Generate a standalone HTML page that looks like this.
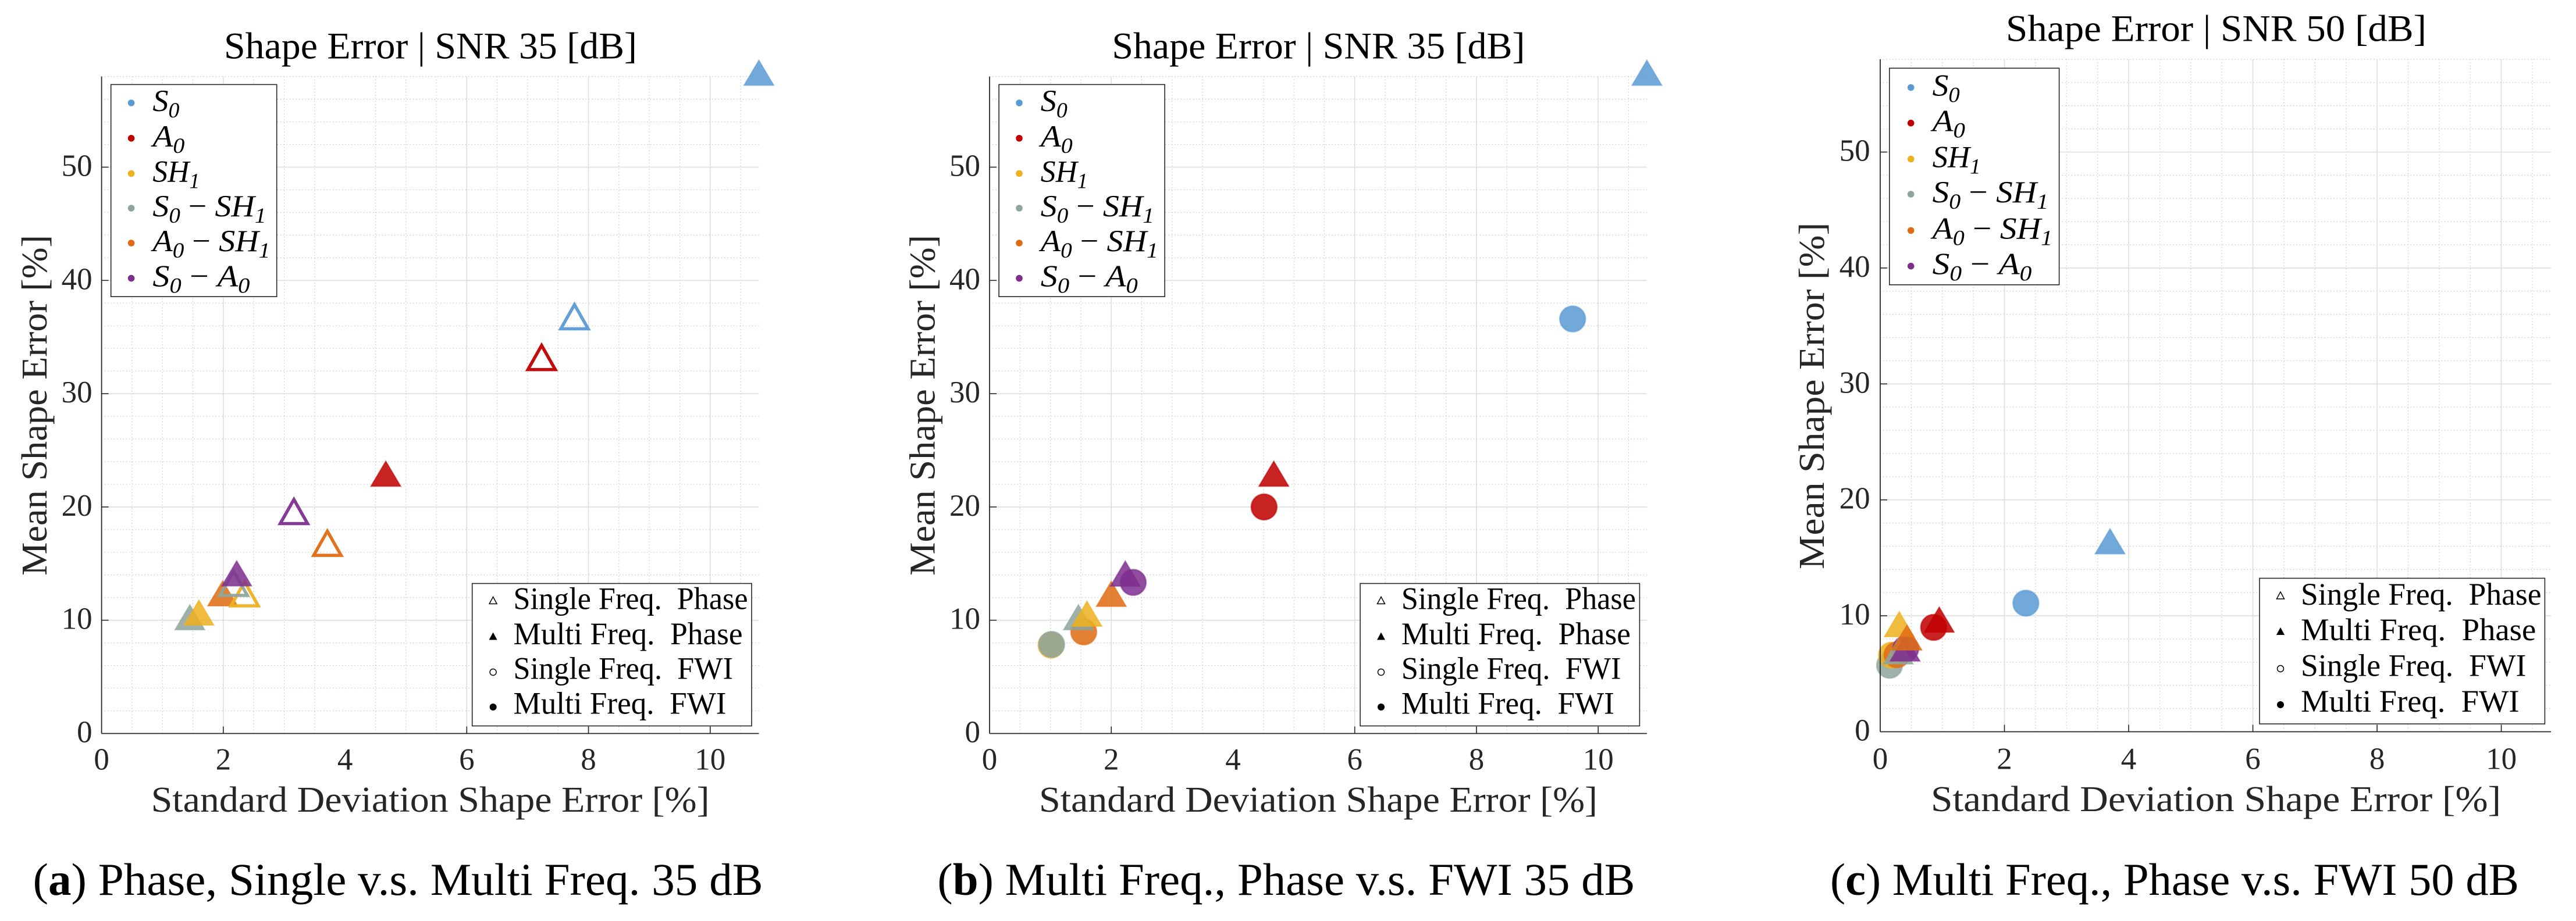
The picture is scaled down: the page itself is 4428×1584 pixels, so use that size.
<!DOCTYPE html>
<html lang="en">
<head>
<meta charset="utf-8">
<title>Shape Error Scatter Panels</title>
<style>
html,body{margin:0;padding:0;background:#fff;}
svg{display:block;font-family:"Liberation Serif",serif;}
</style>
</head>
<body>
<svg id="figure" xmlns="http://www.w3.org/2000/svg" width="4428" height="1584" viewBox="0 0 4428 1584">
<rect x="0" y="0" width="4428" height="1584" fill="#fff"/>
</svg>
<script>
const xTickLabels=[0,2,4,6,8,10];
const yTickLabels=[0,10,20,30,40,50];
const xMinorTicks=[0.5,1,1.5,2.5,3,3.5,4.5,5,5.5,6.5,7,7.5,8.5,9,9.5,10.5];
const yMinorTicks=[2,4,6,8,12,14,16,18,22,24,26,28,32,34,36,38,42,44,46,48,52,54,56,58];
const seriesKeys=['s0','a0','sh1','s0-sh1','a0-sh1','s0-a0'];

const panelASinglePhaseX=[7.77,7.23,2.35,2.17,3.71,3.16];
const panelASinglePhaseY=[36.5,32.9,12.04,12.96,16.5,19.3];
const panelAMultiPhaseX=[10.8,4.67,1.6,1.45,1.99,2.22];
const panelAMultiPhaseY=[58,22.6,10.34,9.93,12.04,13.8];

const panelBMultiPhaseX=[10.8,4.67,1.6,1.46,2.0,2.23];
const panelBMultiPhaseY=[58,22.6,10.24,9.93,11.99,13.78];
const panelBMultiFwiX=[9.58,4.51,1.01,1.02,1.547,2.36];
const panelBMultiFwiY=[36.6,20.0,7.8,7.87,8.97,13.34];

const panelCMultiPhaseX=[3.7,0.95,0.306,0.29,0.43,0.40];
const panelCMultiPhaseY=[16.1,9.34,8.95,6.6,7.8,6.85];
const panelCMultiFwiX=[2.345,0.86,0.18,0.15,0.27,0.41];
const panelCMultiFwiY=[11.09,9.0,6.61,5.73,6.64,7.15];

const seriesColors=['#5B9BD5','#C00000','#EDB120','#8EA59D','#DF6C14','#7E2F8E'];
const methodLabels=['Single Freq.  Phase','Multi Freq.  Phase','Single Freq.  FWI','Multi Freq.  FWI'];
const seriesLabels=[
  [['S','i'],['0','s']],
  [['A','i'],['0','s']],
  [['SH','i'],['1','s']],
  [['S','i'],['0','s'],[' \u2212 ','m'],['SH','i'],['1','s']],
  [['A','i'],['0','s'],[' \u2212 ','m'],['SH','i'],['1','s']],
  [['S','i'],['0','s'],[' \u2212 ','m'],['A','i'],['0','s']]
];
const seriesLabelWidths=[46,55,81,195,202,167];
const methodLabelWidths=[403,394,377.5,366];

const NS='http://www.w3.org/2000/svg';
const svg=document.getElementById('figure');
function el(tag,attrs,parent,text){
  const e=document.createElementNS(NS,tag);
  for(const k in attrs){e.setAttribute(k,attrs[k]);}
  if(text!==undefined){e.textContent=text;}
  parent.appendChild(e);
  return e;
}

function abLayout(dx){
  return {
    ox:174.6+dx,sx:104.62,oy:1261.5,sy:19.48,
    titleX:385+dx,titleY:100.5,titleW:710,
    xTitleX:259.6+dx,xTitleY:1396,xTitleW:960,
    yTitleX:80+dx,yTitleTop:404,yTitleBottom:990,
    tickLabelY:1323.5,yTickRight:158.6+dx,
    leg1:{x:190.7+dx,y:145.4,w:285,h:364.8,dotX:225.6+dx,textX:262.4+dx,rows:[177,237.8,298.5,358,418,478.6],k:1},
    leg2:{x:811.7+dx,y:1003.5,w:480.3,h:245,markX:847.6+dx,textX:882.5+dx,rows:[1033.5,1095,1156,1216],base:[1047.5,1108,1167.5,1227.5],k:1},
    skipX:[4]
  };
}

const panels=[
  Object.assign(abLayout(0),{
    key:'a',title:'Shape Error | SNR 35 [dB]',
    capLetter:'a',capRest:' Phase, Single v.s. Multi Freq. 35 dB',capX:56.6,capW:1255,
    sets:{
      single:{shape:'open',x:panelASinglePhaseX,y:panelASinglePhaseY},
      multi:{shape:'tri',x:panelAMultiPhaseX,y:panelAMultiPhaseY}
    },
    order:[['multi',0],['multi',1],['multi',3],['multi',2],['multi',4],['single',0],['single',1],['single',2],['single',3],['single',4],['single',5],['multi',5]]
  }),
  Object.assign(abLayout(1526.4),{
    key:'b',title:'Shape Error | SNR 35 [dB]',
    capLetter:'b',capRest:' Multi Freq., Phase v.s. FWI 35 dB',capX:1611.4,capW:1199,
    sets:{
      fwi:{shape:'circle',x:panelBMultiFwiX,y:panelBMultiFwiY},
      multi:{shape:'tri',x:panelBMultiPhaseX,y:panelBMultiPhaseY}
    },
    order:[['fwi',0],['fwi',1],['fwi',2],['fwi',3],['fwi',4],['fwi',5],['multi',0],['multi',1],['multi',3],['multi',2],['multi',4],['multi',5]]
  }),
  {
    ox:3232,sx:106.76,oy:1258.5,sy:19.94,
    titleX:3448,titleY:70.4,titleW:723,
    xTitleX:3319,xTitleY:1395,xTitleW:980,
    yTitleX:3135,yTitleTop:382.6,yTitleBottom:979,
    tickLabelY:1322.5,yTickRight:3214.6,
    leg1:{x:3247.8,y:117.3,w:291.8,h:372.5,dotX:3284.7,textX:3321.7,rows:[150.5,211.7,273.5,334,396.4,457.7],k:1.022},
    leg2:{x:3884,y:994.5,w:490.4,h:250.5,markX:3920,textX:3955,rows:[1025,1086.5,1150,1212],base:[1040,1101,1162.5,1224],k:1.026},
    skipX:[],
    key:'c',title:'Shape Error | SNR 50 [dB]',
    capLetter:'c',capRest:' Multi Freq., Phase v.s. FWI 50 dB',capX:3146,capW:1184,
    sets:{
      fwi:{shape:'circle',x:panelCMultiFwiX,y:panelCMultiFwiY},
      multi:{shape:'tri',x:panelCMultiPhaseX,y:panelCMultiPhaseY}
    },
    order:[['fwi',3],['fwi',2],['fwi',4],['fwi',5],['fwi',1],['fwi',0],['multi',3],['multi',5],['multi',2],['multi',4],['multi',1],['multi',0]]
  }
];

function triPath(cx,cy,up,down,half){
  return 'M'+cx+' '+(cy-up)+'L'+(cx+half)+' '+(cy+down)+'L'+(cx-half)+' '+(cy+down)+'Z';
}

function drawPanel(p){
  const g=el('g',{},svg);
  
  
  const xmax=10.8,ymax=58;
  const X=v=>p.ox+v*p.sx;
  const Y=v=>p.oy-v*p.sy;

  xMinorTicks.forEach(function(v){
    const l=el('line',{x1:X(v),x2:X(v),y1:Y(0),y2:Y(ymax),stroke:'#bdbdbd','stroke-width':1.2,'stroke-dasharray':'1.3 4'},g);
    
    
  });
  yMinorTicks.forEach(function(v){
    const l=el('line',{x1:X(0),x2:X(xmax),y1:Y(v),y2:Y(v),stroke:'#bdbdbd','stroke-width':1.2,'stroke-dasharray':'1.3 4'},g);
    
    
  });
  xTickLabels.forEach(function(v){
    if(v===0||p.skipX.indexOf(v)>=0){return;}
    const l=el('line',{x1:X(v),x2:X(v),y1:Y(0),y2:Y(ymax),stroke:'#dedede','stroke-width':1.6},g);
    
    
  });
  yTickLabels.forEach(function(v){
    if(v===0){return;}
    const l=el('line',{x1:X(0),x2:X(xmax),y1:Y(v),y2:Y(v),stroke:'#dedede','stroke-width':1.6},g);
    
    
  });

  p.order.forEach(function(o){
    const set=p.sets[o[0]];
    const i=o[1];
    const cx=X(set.x[i]);
    const cy=Y(set.y[i]);
    const c=seriesColors[i];
    let m;
    if(set.shape==='open'){
      m=el('path',{d:triPath(cx,cy,26.5,15,23.5),fill:'none',stroke:c,'stroke-width':5.5,'stroke-opacity':0.95,'stroke-linejoin':'miter','stroke-miterlimit':6},g);
    }else if(set.shape==='tri'){
      m=el('path',{d:triPath(cx,cy,28,15,25.5),fill:c,'fill-opacity':0.86,stroke:c,'stroke-opacity':0.6,'stroke-width':2,'stroke-miterlimit':6},g);
    }else{
      m=el('circle',{cx:cx,cy:cy,r:22,fill:c,'fill-opacity':0.86,stroke:c,'stroke-opacity':0.6,'stroke-width':2.5},g);
    }
    
    
  });

  const yAxis=el('line',{x1:X(0),x2:X(0),y1:Y(0),y2:Y(ymax),stroke:'#262626','stroke-width':1.8},g);
  
  
  const xAxis=el('line',{x1:X(0),x2:X(xmax),y1:Y(0),y2:Y(0),stroke:'#262626','stroke-width':1.8},g);
  
  

  xTickLabels.forEach(function(v){
    if(v!==0&&p.skipX.indexOf(v)<0){
      const t=el('line',{x1:X(v),x2:X(v),y1:Y(0),y2:Y(0)-12,stroke:'#262626','stroke-width':1.6},g);
      
      
    }
    const lab=el('text',{x:X(v),y:p.tickLabelY,'text-anchor':'middle','font-size':53,fill:'#262626'},g,String(v));
    
    
  });
  yTickLabels.forEach(function(v){
    if(v!==0){
      const t=el('line',{x1:X(0),x2:X(0)+12,y1:Y(v),y2:Y(v),stroke:'#262626','stroke-width':1.6},g);
      
      
    }
    const lab=el('text',{x:p.yTickRight,y:Y(v)+15,'text-anchor':'end','font-size':53,fill:'#262626'},g,String(v));
    
    
  });

  const title=el('text',{x:p.titleX,y:p.titleY,'font-size':65,fill:'#000',textLength:p.titleW,lengthAdjust:'spacingAndGlyphs'},g,p.title);
  
  

  const xTitle=el('text',{x:p.xTitleX,y:p.xTitleY,'font-size':62,fill:'#262626',textLength:p.xTitleW,lengthAdjust:'spacingAndGlyphs'},g,'Standard Deviation Shape Error [%]');
  
  

  const yTitle=el('text',{transform:'translate('+p.yTitleX+' '+p.yTitleBottom+') rotate(-90)','font-size':62,fill:'#262626',textLength:p.yTitleBottom-p.yTitleTop,lengthAdjust:'spacingAndGlyphs'},g,'Mean Shape Error [%]');
  
  

  const L1=p.leg1;
  const leg1=el('g',{},g);
  
  
  const box1=el('rect',{x:L1.x,y:L1.y,width:L1.w,height:L1.h,fill:'#fff',stroke:'#262626','stroke-width':1.6},leg1);
  
  
  seriesLabels.forEach(function(parts,i){
    const dot=el('circle',{cx:L1.dotX,cy:L1.rows[i],r:5.8,fill:seriesColors[i]},leg1);
    
    
    const t=el('text',{x:L1.textX,y:L1.rows[i]+14,'font-size':53,'font-style':'italic',fill:'#000',textLength:seriesLabelWidths[i]*L1.k,lengthAdjust:'spacingAndGlyphs','xml:space':'preserve',style:'white-space:pre'},leg1);
    
    
    let shift=0;
    parts.forEach(function(part){
      const a={};
      const target=part[1]==='s'?11:0;
      a.dy=target-shift;
      shift=target;
      if(part[1]==='s'){a['font-size']=37;}
      if(part[1]==='m'){a['font-style']='normal';}
      el('tspan',a,t,part[0]);
    });
  });

  const L2=p.leg2;
  const leg2=el('g',{},g);
  
  
  const box2=el('rect',{x:L2.x,y:L2.y,width:L2.w,height:L2.h,fill:'#fff',stroke:'#262626','stroke-width':1.6},leg2);
  
  
  methodLabels.forEach(function(label,i){
    const mx=L2.markX,my=L2.rows[i];
    let m;
    if(i===0){
      m=el('path',{d:triPath(mx,my,7,5,6.5),fill:'none',stroke:'#000','stroke-width':1.5},leg2);
    }else if(i===1){
      m=el('path',{d:triPath(mx,my,7.5,5.5,7),fill:'#000'},leg2);
    }else if(i===2){
      m=el('circle',{cx:mx,cy:my,r:5.5,fill:'none',stroke:'#000','stroke-width':1.5},leg2);
    }else{
      m=el('circle',{cx:mx,cy:my,r:6,fill:'#000'},leg2);
    }
    
    
    const t=el('text',{x:L2.textX,y:L2.base[i],'font-size':54,fill:'#000',textLength:methodLabelWidths[i]*L2.k,lengthAdjust:'spacingAndGlyphs','xml:space':'preserve',style:'white-space:pre'},leg2,label);
    
    
  });

  const cap=el('text',{x:p.capX,y:1539,'font-size':78,fill:'#000',textLength:p.capW,lengthAdjust:'spacingAndGlyphs'},svg);
  
  
  el('tspan',{},cap,'(');
  el('tspan',{'font-weight':'bold'},cap,p.capLetter);
  el('tspan',{},cap,')'+p.capRest);
}
panels.forEach(drawPanel);
</script>
</body>
</html>
